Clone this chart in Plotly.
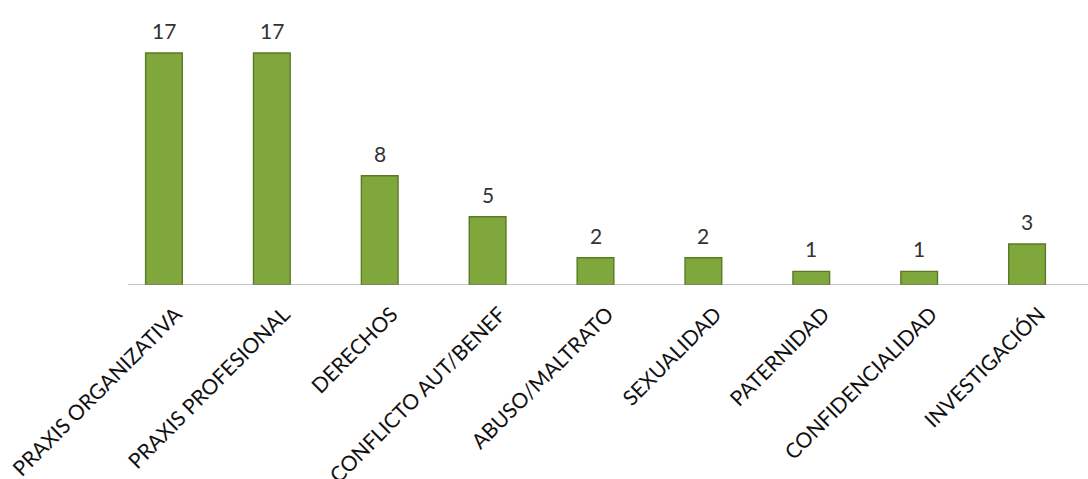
import plotly.graph_objects as go

categories = ["PRAXIS ORGANIZATIVA", "PRAXIS PROFESIONAL", "DERECHOS", "CONFLICTO AUT/BENEF",
              "ABUSO/MALTRATO", "SEXUALIDAD", "PATERNIDAD", "CONFIDENCIALIDAD", "INVESTIGACIÓN"]
values = [17, 17, 8, 5, 2, 2, 1, 1, 3]

W, H = 1088, 479
ml, mr, mt, mb = 110, 7, 10, 194
px_per_unit = 13.65
ytop = (H - mt - mb) / px_per_unit

fig = go.Figure()
fig.add_trace(go.Bar(
    x=categories, y=values, width=0.34,
    marker=dict(color="#80A73C", line=dict(color="#587A26", width=1.4)),
))
for c, v in zip(categories, values):
    fig.add_annotation(x=c, y=v, text=str(v), showarrow=False, yanchor="bottom", yshift=8,
                       font=dict(size=21, color="#333333", family="Lato"))

fig.add_shape(type="line", xref="paper", yref="y", x0=(128 - ml) / (W - ml - mr), x1=1.01,
              y0=0, y1=0, line=dict(color="#8C8C8C", width=1.2))

fig.update_layout(
    width=W, height=H, margin=dict(l=ml, r=mr, t=mt, b=mb),
    paper_bgcolor="white", plot_bgcolor="white", showlegend=False,
    xaxis=dict(tickangle=-45, showline=False, ticks="", showgrid=False, automargin=False,
               ticklabelstandoff=12, ticklabelshift=12,
               tickfont=dict(size=21, color="#111111", family="Lato")),
    yaxis=dict(visible=False, range=[0, ytop], automargin=False),
)
fig.write_html("out.html")
